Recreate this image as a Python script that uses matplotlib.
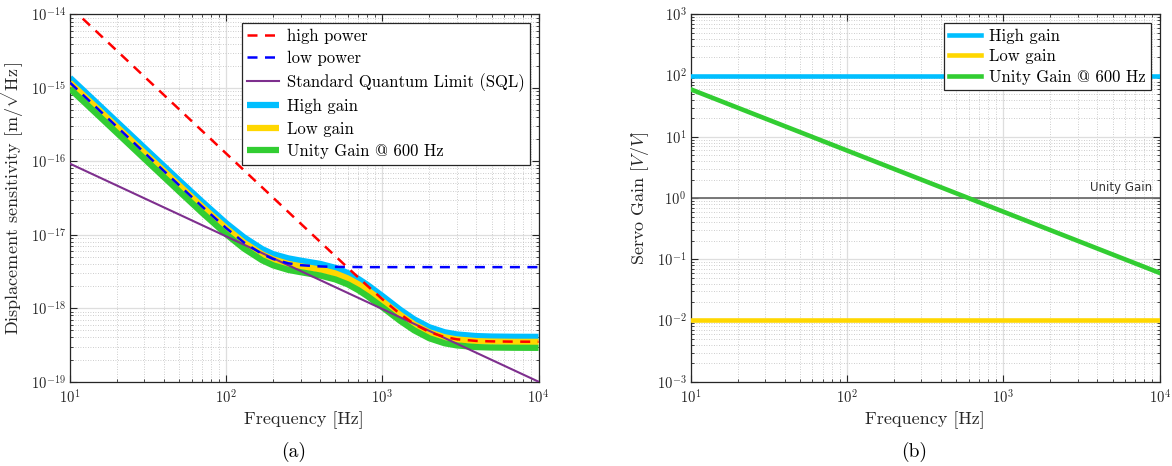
import matplotlib
matplotlib.use('Agg')
import matplotlib.pyplot as plt
import matplotlib.transforms as mtransforms
from matplotlib.ticker import LogLocator, NullFormatter
import numpy as np

plt.rcParams['font.family'] = ['cmr10', 'DejaVu Serif']
plt.rcParams['mathtext.fontset'] = 'cm'
plt.rcParams['axes.formatter.use_mathtext'] = True
plt.rcParams['axes.unicode_minus'] = False

# ---------------- Panel (a): displacement sensitivity ----------------
freq = [10, 20, 30, 50, 70, 100, 130, 170, 200, 250, 300, 400, 500, 600,
        700, 800, 1000, 1300, 1600, 2000, 2500, 3000, 4000, 5000, 7000, 10000]

# values in units of 1e-18 m/sqrt(Hz)
high_power_e18 = [12800, 3200, 1422, 512, 261.2, 128, 75.7, 44.3, 32.0, 20.48,
                  14.22, 8.01, 5.13, 3.57, 2.64, 2.03, 1.33, 0.834, 0.610,
                  0.474, 0.406, 0.378, 0.359, 0.354, 0.351, 0.350]
low_power_e18 = [1180, 295, 131.1, 47.3, 24.35, 12.35, 7.87, 5.46, 4.68, 4.09,
                 3.86, 3.71, 3.66, 3.65, 3.64, 3.63, 3.63, 3.63, 3.63, 3.63,
                 3.63, 3.63, 3.63, 3.63, 3.63, 3.63]
high_gain_e18 = [1375, 344, 152.7, 55.1, 28.4, 14.4, 9.25, 6.40, 5.45, 4.78,
                 4.45, 4.02, 3.55, 3.02, 2.52, 2.09, 1.47, 0.955, 0.706,
                 0.551, 0.472, 0.440, 0.418, 0.412, 0.409, 0.408]
low_gain_e18 = [1175, 294, 130.5, 47.1, 24.25, 12.29, 7.83, 5.42, 4.63, 4.01,
                3.73, 3.36, 2.98, 2.55, 2.13, 1.77, 1.25, 0.813, 0.602,
                0.470, 0.403, 0.376, 0.357, 0.352, 0.349, 0.349]
unity_gain_e18 = [975, 244, 108.3, 39.1, 20.1, 10.2, 6.50, 4.50, 3.84, 3.33,
                  3.10, 2.79, 2.47, 2.12, 1.77, 1.47, 1.035, 0.675, 0.500,
                  0.390, 0.334, 0.312, 0.296, 0.292, 0.290, 0.289]
sql_freq = [10, 10000]
sql_vals = [9.3e-17, 1.0e-19]

# ---------------- Panel (b): servo gain ----------------
freq_b = [10, 10000]
servo_high = [100, 100]
servo_low = [0.01, 0.01]
servo_unity = [60, 0.06]
unity_line = [1, 1]

C_CYAN = '#00BFFF'
C_YEL = '#FFD700'
C_GRN = '#32CD32'
C_PUR = '#7E2F8E'


def style(ax):
    ax.set_xscale('log')
    ax.set_yscale('log')
    ax.xaxis.set_major_locator(LogLocator(base=10, numticks=100))
    ax.yaxis.set_major_locator(LogLocator(base=10, numticks=100))
    ax.xaxis.set_minor_locator(LogLocator(base=10, subs=np.arange(2, 10), numticks=100))
    ax.yaxis.set_minor_locator(LogLocator(base=10, subs=np.arange(2, 10), numticks=100))
    ax.xaxis.set_minor_formatter(NullFormatter())
    ax.yaxis.set_minor_formatter(NullFormatter())
    ax.yaxis.get_offset_text().set_visible(False)
    ax.xaxis.get_offset_text().set_visible(False)
    ax.grid(True, which='major', color='#dedede', linewidth=0.9, linestyle='-')
    ax.grid(True, which='minor', color='#bdbdbd', linewidth=0.6, linestyle=(0, (1, 2)))
    ax.set_axisbelow(True)
    ax.tick_params(which='both', direction='in', top=True, right=True,
                   colors='#262626', labelcolor='#262626', labelsize=10.5)
    ax.tick_params(which='major', length=5, width=0.8, pad=3)
    ax.tick_params(axis='x', which='major', pad=5)
    ax.tick_params(which='minor', length=2.5, width=0.6)
    for s in ax.spines.values():
        s.set_color('#262626')
        s.set_linewidth(0.9)


fig = plt.figure(figsize=(11.72, 4.66), dpi=100)
ax1 = fig.add_axes([0.0597, 0.1809, 0.3998, 0.7880])
ax2 = fig.add_axes([0.5892, 0.1809, 0.4002, 0.7880])

s = 1e-18
ax1.plot(freq, np.array(high_power_e18) * s, '--', color='#FF0000', lw=1.8,
         dashes=(4, 3), label='high power', zorder=7)
ax1.plot(freq, np.array(low_power_e18) * s, '--', color='#0000FF', lw=1.8,
         dashes=(4, 3), label='low power', zorder=6)
ax1.plot(sql_freq, sql_vals, '-', color=C_PUR, lw=1.5,
         label='Standard Quantum Limit (SQL)', zorder=5)
ax1.plot(freq, np.array(high_gain_e18) * s, '-', color=C_CYAN, lw=4.5,
         label='High gain', zorder=2, solid_capstyle='butt')
ax1.plot(freq, np.array(low_gain_e18) * s, '-', color=C_YEL, lw=4.5,
         label='Low gain', zorder=3, solid_capstyle='butt')
ax1.plot(freq, np.array(unity_gain_e18) * s, '-', color=C_GRN, lw=4.5,
         label='Unity Gain @ 600 Hz', zorder=4, solid_capstyle='butt')
style(ax1)
ax1.set_xlim(10, 1e4)
ax1.set_ylim(1e-19, 1e-14)
ax1.set_xlabel('Frequency [Hz]', fontsize=13, color='#262626', labelpad=3)
ax1.set_ylabel(r'Displacement sensitivity $[\mathrm{m}/\sqrt{\mathrm{Hz}}]$',
               fontsize=13, color='#262626', labelpad=3)
leg1 = ax1.legend(loc='upper right', fontsize=12, frameon=True, fancybox=False,
                  edgecolor='#262626', framealpha=1, borderaxespad=0.5,
                  handlelength=1.9, labelspacing=0.42, borderpad=0.35,
                  handletextpad=0.45)
leg1.get_frame().set_linewidth(0.9)
leg1.set_zorder(10)

ax2.plot(freq_b, servo_high, '-', color=C_CYAN, lw=3.3, label='High gain', zorder=3)
ax2.plot(freq_b, servo_low, '-', color=C_YEL, lw=3.3, label='Low gain', zorder=3)
ax2.plot(freq_b, servo_unity, '-', color=C_GRN, lw=3.3,
         label='Unity Gain @ 600 Hz', zorder=3)
ax2.plot(freq_b, unity_line, '-', color='#6e6e6e', lw=1.3, zorder=2)
style(ax2)
ax2.set_xlim(10, 1e4)
ax2.set_ylim(1e-3, 1e3)
ax2.set_xlabel('Frequency [Hz]', fontsize=13, color='#262626', labelpad=3)
ax2.set_ylabel(r'Servo Gain $[V/V]$', fontsize=13, color='#262626', labelpad=4)
leg2 = ax2.legend(loc='upper right', fontsize=12, frameon=True, fancybox=False,
                  edgecolor='#262626', framealpha=1, borderaxespad=0.5,
                  handlelength=1.9, labelspacing=0.3, borderpad=0.35,
                  handletextpad=0.45)
leg2.get_frame().set_linewidth(0.9)
leg2.set_zorder(10)
trans = mtransforms.blended_transform_factory(ax2.transAxes, ax2.transData)
ax2.text(0.985, 1.18, 'Unity Gain', transform=trans, ha='right', va='bottom',
         fontsize=8.5, family='DejaVu Sans', color='#333333')

fig.text(294 / 1172, 1 - 452 / 466, '(a)', ha='center', va='center', fontsize=14)
fig.text(914 / 1172, 1 - 452 / 466, '(b)', ha='center', va='center', fontsize=14)

fig.savefig('out.png', dpi=100)
